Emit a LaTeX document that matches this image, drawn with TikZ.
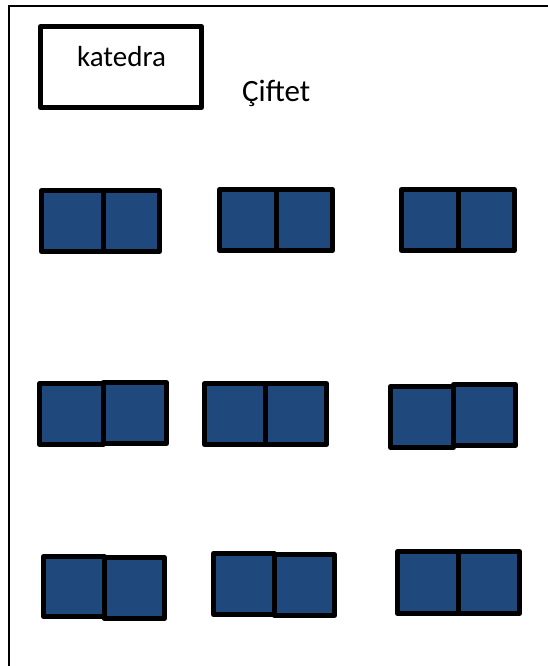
\documentclass[tikz,border=0pt]{standalone}
\usepackage{fontspec}
\setmainfont{Carlito}
\definecolor{deskblue}{RGB}{31,73,125}
\tikzset{
  seat/.style={draw=black, fill=deskblue, line width=5pt, line join=round},
  frame/.style={draw=black, line width=2pt},
  label/.style={inner sep=0pt, font=\fontsize{29}{33}\selectfont}
}
\begin{document}
\begin{tikzpicture}[x=1pt,y=-1pt]
\useasboundingbox (0,0) rectangle (548,666);
% page frame
\draw[frame] (548,6) -- (9,6) -- (9,667);
% katedra
\draw[draw=black, line width=5pt, line join=round] (40.5,26.5) rectangle (201.5,107.5);
\node[label, anchor=base] (katedra) at (121.5,67) {katedra};
\node[label, anchor=base west, font=\fontsize{31}{35}\selectfont] (ciftet) at (242,102) {Çiftet};
% row 1
\path[seat] (41.5,190.5) rectangle (103,251.5);
\path[seat] (103,190.5) rectangle (159.5,251.5);
\path[seat] (219.5,189.5) rectangle (276,250.5);
\path[seat] (276,189.5) rectangle (332.5,250.5);
\path[seat] (401.5,189.5) rectangle (458,250.5);
\path[seat] (458,189.5) rectangle (514.5,250.5);
% row 2
\path[seat] (39.5,383.5) rectangle (103,444.5);
\path[seat] (103,382.5) rectangle (166.5,443.5);
\path[seat] (204.5,383.5) rectangle (265,444.5);
\path[seat] (265,383.5) rectangle (326.5,444.5);
\path[seat] (390.5,386.5) rectangle (453.5,447.5);
\path[seat] (453.5,384.5) rectangle (515.5,445.5);
% row 3
\path[seat] (43.5,556.5) rectangle (104,616.5);
\path[seat] (104,557.5) rectangle (164.5,618.5);
\path[seat] (213.5,553.5) rectangle (274,614.5);
\path[seat] (274,554.5) rectangle (334.5,615.5);
\path[seat] (397.5,551.5) rectangle (458,613.5);
\path[seat] (458,551.5) rectangle (519.5,613.5);
\end{tikzpicture}
\end{document}
